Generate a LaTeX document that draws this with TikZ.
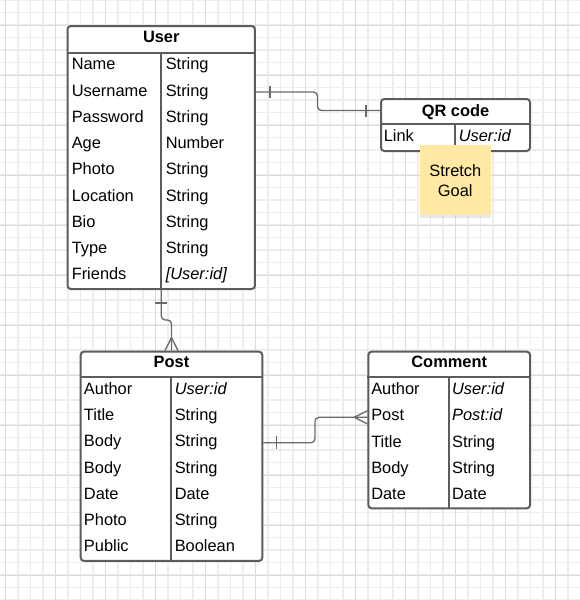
\documentclass[tikz,border=0pt]{standalone}
\usepackage{fontspec}
\setmainfont{Liberation Sans}
\usetikzlibrary{calc,shadows}

\definecolor{borde}{HTML}{5C5C5C}
\definecolor{enlace}{HTML}{6A6A6A}
\definecolor{rejilla}{HTML}{EDEDED}
\definecolor{rejillab}{HTML}{DADADA}
\definecolor{notacolor}{HTML}{FFE9A3}

\tikzstyle{entidad}= [rectangle,draw=borde,line width=1.5pt,rounded corners=2.5pt,fill=white,inner sep=0pt]
\tikzstyle{titulo}= [inner sep=0pt,text height=8.8pt,text depth=0pt,font=\fontsize{12.3}{14}\selectfont\bfseries]
\tikzstyle{campo}= [anchor=west,inner sep=0pt,text height=8.8pt,text depth=0pt,font=\fontsize{12.3}{14}\selectfont]
\tikzstyle{clave}= [campo,font=\fontsize{12.3}{14}\selectfont\itshape]
\tikzstyle{sep}= [draw=borde,line width=1.5pt]
\tikzstyle{rel}= [draw=enlace,line width=1pt,rounded corners=3pt]
\tikzstyle{postit}= [rectangle,fill=notacolor,inner sep=0pt,align=center,
  minimum width=53pt,minimum height=52.5pt,font=\fontsize{12.3}{15}\selectfont,
  drop shadow={shadow xshift=0pt,shadow yshift=-2pt,opacity=.18}]

\begin{document}
\begin{tikzpicture}[x=0.75pt,y=-0.75pt]

		\useasboundingbox (0,0) rectangle (580,600);
		\fill[white] (0,0) rectangle (580,600);

		% rejilla
		\foreach \gx in {0,...,46} \draw[rejilla,line width=1.1pt] ({5.7+12.5*\gx},0) -- ++(0,600);
		\foreach \gy in {0,...,48} \draw[rejilla,line width=1.1pt] (0,{12.5*\gy}) -- ++(580,0);
		\foreach \gx in {0,...,11} \draw[rejillab,line width=0.6pt] ({5.7+50*\gx},0) -- ++(0,600);
		\foreach \gy in {0,...,11} \draw[rejillab,line width=0.6pt] (0,{25+50*\gy}) -- ++(580,0);

		% User
		\node (user) at (161.25,157.5) [entidad,minimum width=140.6pt,minimum height=197.25pt] {};
		\draw[sep] (user.west |- 0,52.7) -- (user.east |- 0,52.7);
		\draw[sep] (161,52.7) -- (user.south -| 161,0);
		\node (ut) at (161.25,37) [titulo] {User};

		\node (un1) at (71.5,64) [campo] {Name};
		\node (un2) at (71.5,90.25) [campo] {Username};
		\node (un3) at (71.5,116.5) [campo] {Password};
		\node (un4) at (71.5,142.75) [campo] {Age};
		\node (un5) at (71.5,169) [campo] {Photo};
		\node (un6) at (71.5,195.25) [campo] {Location};
		\node (un7) at (71.5,221.5) [campo] {Bio};
		\node (un8) at (71.5,247.75) [campo] {Type};
		\node (un9) at (71.5,274) [campo] {Friends};

		\node (ud1) at (165.5,64) [campo] {String};
		\node (ud2) at (165.5,90.25) [campo] {String};
		\node (ud3) at (165.5,116.5) [campo] {String};
		\node (ud4) at (165.5,142.75) [campo] {Number};
		\node (ud5) at (165.5,169) [campo] {String};
		\node (ud6) at (165.5,195.25) [campo] {String};
		\node (ud7) at (165.5,221.5) [campo] {String};
		\node (ud8) at (165.5,247.75) [campo] {String};
		\node (ud9) at (165.5,274) [clave] {[User:id]};

		% QR code
		\node (qr) at (455.5,125) [entidad,minimum width=111.75pt,minimum height=39pt] {};
		\draw[sep] (qr.west |- 0,124) -- (qr.east |- 0,124);
		\draw[sep] (455,124) -- (qr.south -| 455,0);
		\node (qrt) at (455.5,110.5) [titulo] {QR code};
		\node (qn1) at (383.5,135.5) [campo] {Link};
		\node (qd1) at (458.5,135.5) [clave] {User:id};

		% Post
		\node (post) at (171.5,456.3) [entidad,minimum width=136.2pt,minimum height=157pt] {};
		\draw[sep] (post.west |- 0,376.7) -- (post.east |- 0,376.7);
		\draw[sep] (171,376.7) -- (post.south -| 171,0);
		\node (pt) at (171.5,361.7) [titulo] {Post};

		\node (pn1) at (83.7,388.5) [campo] {Author};
		\node (pn2) at (83.7,414.75) [campo] {Title};
		\node (pn3) at (83.7,441) [campo] {Body};
		\node (pn4) at (83.7,467.25) [campo] {Body};
		\node (pn5) at (83.7,493.5) [campo] {Date};
		\node (pn6) at (83.7,519.75) [campo] {Photo};
		\node (pn7) at (83.7,546) [campo] {Public};

		\node (pd1) at (174.5,388.5) [clave] {User:id};
		\node (pd2) at (174.5,414.75) [campo] {String};
		\node (pd3) at (174.5,441) [campo] {String};
		\node (pd4) at (174.5,467.25) [campo] {String};
		\node (pd5) at (174.5,493.5) [campo] {Date};
		\node (pd6) at (174.5,519.75) [campo] {String};
		\node (pd7) at (174.5,546) [campo] {Boolean};

		% Comment
		\node (comment) at (449.2,430) [entidad,minimum width=121.3pt,minimum height=117.5pt] {};
		\draw[sep] (comment.west |- 0,377.3) -- (comment.east |- 0,377.3);
		\draw[sep] (449,377.3) -- (comment.south -| 449,0);
		\node (ct) at (449.2,361.8) [titulo] {Comment};

		\node (cn1) at (371,388.8) [campo] {Author};
		\node (cn2) at (371,415) [campo] {Post};
		\node (cn3) at (371,441.2) [campo] {Title};
		\node (cn4) at (371,467.4) [campo] {Body};
		\node (cn5) at (371,493.6) [campo] {Date};

		\node (cd1) at (451.8,388.8) [clave] {User:id};
		\node (cd2) at (451.8,415) [clave] {Post:id};
		\node (cd3) at (451.8,441.2) [campo] {String};
		\node (cd4) at (451.8,467.4) [campo] {String};
		\node (cd5) at (451.8,493.6) [campo] {Date};

		% relaciones
		\coordinate (uout) at (user.east |- 0,92);
		\coordinate (qin) at (qr.west |- qrt);
		\coordinate (pout) at (post.east |- 0,442.7);
		\coordinate (cin) at (comment.west |- 0,417.3);

		\path[rel] (uout) -- ++(61.5,0) |- (qin);
		\path[rel] ($(uout)+(14,-6)$) -- ++(0,12);
		\path[rel] ($(qin)+(-14,-6)$) -- ++(0,12);

		\path[rel] (user.south) -- ++(0,30) -| (post.north);
		\path[rel] ($(user.south)+(-6,13)$) -- ++(12,0);
		\path[rel,rounded corners=0pt] ($(post.north)+(-6.5,0)$) -- ($(post.north)+(0,-13)$) -- ($(post.north)+(6.5,0)$);

		\path[rel] (pout) -- ++(51.7,0) |- (cin);
		\path[rel] ($(pout)+(13,-6.5)$) -- ++(0,13);
		\path[rel,rounded corners=0pt] ($(cin)+(0,-6.5)$) -- ($(cin)+(-13,0)$) -- ($(cin)+(0,6.5)$);

		% nota
		\node (nota) at (455.3,180.2) [postit] {Stretch\\Goal};

	\end{tikzpicture}
\end{document}
